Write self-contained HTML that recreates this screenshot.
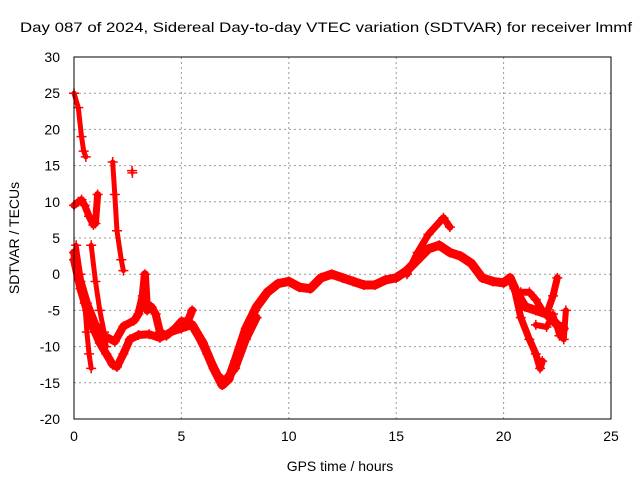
<!DOCTYPE html>
<html><head><meta charset="utf-8"><style>
body{margin:0;background:#fff;font-family:"Liberation Sans",sans-serif}
text{font-family:"Liberation Sans",sans-serif;font-size:14px;fill:#000}
</style></head><body>
<svg id="c" width="640" height="480">
<rect width="640" height="480" fill="#fff"/>
<text x="20" y="32" textLength="612" lengthAdjust="spacingAndGlyphs" style="font-size:14px">Day 087 of 2024, Sidereal Day-to-day VTEC variation (SDTVAR) for receiver lmmf</text>
<text x="340" y="471" text-anchor="middle">GPS time / hours</text>
<text transform="translate(19,238) rotate(-90)" text-anchor="middle">SDTVAR / TECUs</text>
<g id="grid"></g><g id="marks"></g>
<rect x="74" y="57" width="537" height="362" fill="none" stroke="#000"/>
</svg>
<script>
const xTicks=[0,5,10,15,20,25];
const yTicks=[-20,-15,-10,-5,0,5,10,15,20,25,30];
const trackA=[[0,25],[0.2,23],[0.35,19],[0.45,17],[0.55,16.2]];
const trackB=[[0,9.5],[0.2,10],[0.35,10.3],[0.5,9.5],[0.7,8],[0.9,6.8],[1.0,7],[1.1,11]];
const trackC=[[0,2],[0.3,-2],[0.6,-5],[0.9,-7.5],[1.2,-9.5],[1.5,-11],[1.8,-12.5],[2.0,-12.8],[2.3,-11],[2.6,-9],[3.0,-8.4],[3.5,-8.3],[4,-8.8],[4.5,-8],[5,-7.5],[5.5,-7]];
const trackD=[[0,3],[0.3,-1],[0.6,-4],[1.0,-7],[1.4,-8.5],[1.9,-9.3],[2.3,-7.2],[2.8,-6.4],[3.0,-5.5],[3.2,-3],[3.3,0],[3.4,-5],[3.6,-4.5],[3.8,-5.5],[4.0,-8],[4.3,-8.5],[4.7,-7.5],[5.0,-6.5],[5.3,-6.5],[5.5,-5]];
const trackE=[[5.5,-7],[6.0,-9.5],[6.5,-13],[6.9,-15.3],[7.2,-14.5],[7.5,-12],[8.0,-7.5],[8.5,-4.5],[9,-2.5],[9.5,-1.3],[10,-1],[10.5,-1.8],[11,-2],[11.5,-0.5],[12,0],[12.5,-0.5],[13,-1],[13.5,-1.5],[14,-1.5],[14.5,-0.8],[15,-0.5],[15.5,0.5],[16,2],[16.5,3.5],[17,4],[17.5,3],[18,2.5],[18.5,1.5],[19,-0.5],[19.5,-1],[20,-1.2],[20.3,-0.5],[20.6,-2.5],[21,-4.5],[21.5,-5],[22,-5.5],[22.5,-7],[22.8,-7.5]];
const trackF=[[5.7,-8],[6.2,-11],[6.7,-14],[7.0,-14.8],[7.5,-13],[8,-9],[8.5,-6]];
const trackG=[[15.5,0],[16,3],[16.5,5.5],[17.2,7.8],[17.5,6.5]];
const trackH=[[20.5,-2],[20.8,-6],[21.2,-9],[21.5,-11],[21.7,-13],[21.8,-12]];
const trackI=[[20.8,-2.5],[21.2,-2.5],[21.5,-3.5],[21.8,-5],[22,-5.5],[22.3,-3],[22.5,-0.5]];
const trackJ=[[21.5,-7],[22,-7.3],[22.3,-5.5],[22.6,-8.5],[22.8,-9],[22.9,-5]];
const trackK=[[0.1,4],[0.3,0],[0.5,-4],[0.6,-8],[0.7,-11],[0.8,-13]];
const trackL=[[0.8,4],[1,-1],[1.2,-5],[1.4,-8],[1.5,-10]];
const trackM=[[1.8,15.5],[1.9,11],[2.0,6],[2.2,2],[2.3,0.5]];
const trackN=[[2.7,14.3],[2.72,14]];
const tracks=[trackA,trackB,trackC,trackD,trackE,trackF,trackG,trackH,trackI,trackJ,trackK,trackL,trackM,trackN];
const widths=[5,7,8,8,9,8,7,7,7,6,5,5,5,3];
const NS="http://www.w3.org/2000/svg";
const X=t=>74+t*537/25, Y=v=>57+(30-v)*362/50;
const grid=document.getElementById('grid'), marks=document.getElementById('marks'), svg=document.getElementById('c');
function mk(tag,a,p){const e=document.createElementNS(NS,tag);for(const k in a)e.setAttribute(k,a[k]);p.appendChild(e);return e;}
xTicks.forEach(t=>{const x=X(t);
 if(t>0&&t<25){const l=mk('line',{x1:x,x2:x,y1:57,y2:419,stroke:'#999','stroke-dasharray':'2,3'},grid);}
 const tk=mk('text',{x:x,y:441,'text-anchor':'middle'},svg);tk.textContent=t;
 
 
});
yTicks.forEach(v=>{const y=Y(v);
 if(v>-20&&v<30){const l=mk('line',{x1:74,x2:611,y1:y,y2:y,stroke:'#999','stroke-dasharray':'2,3'},grid);}
 const tk=mk('text',{x:60,y:y+5,'text-anchor':'end'},svg);tk.textContent=v;
 
 
});
tracks.forEach((tr,i)=>{
 const pl=mk('polyline',{points:tr.map(p=>X(p[0])+','+Y(p[1])).join(' '),fill:'none',stroke:'#f00','stroke-width':widths[i],'stroke-linejoin':'round','stroke-linecap':'round'},marks);
 
 
 tr.forEach(p=>{const x=X(p[0]),y=Y(p[1]);
  const m=mk('path',{d:`M${x-5},${y}H${x+5}M${x},${y-5}V${y+5}`,stroke:'#f00','stroke-width':1.5},marks);
  
  
 });
});
</script>
</body></html>
